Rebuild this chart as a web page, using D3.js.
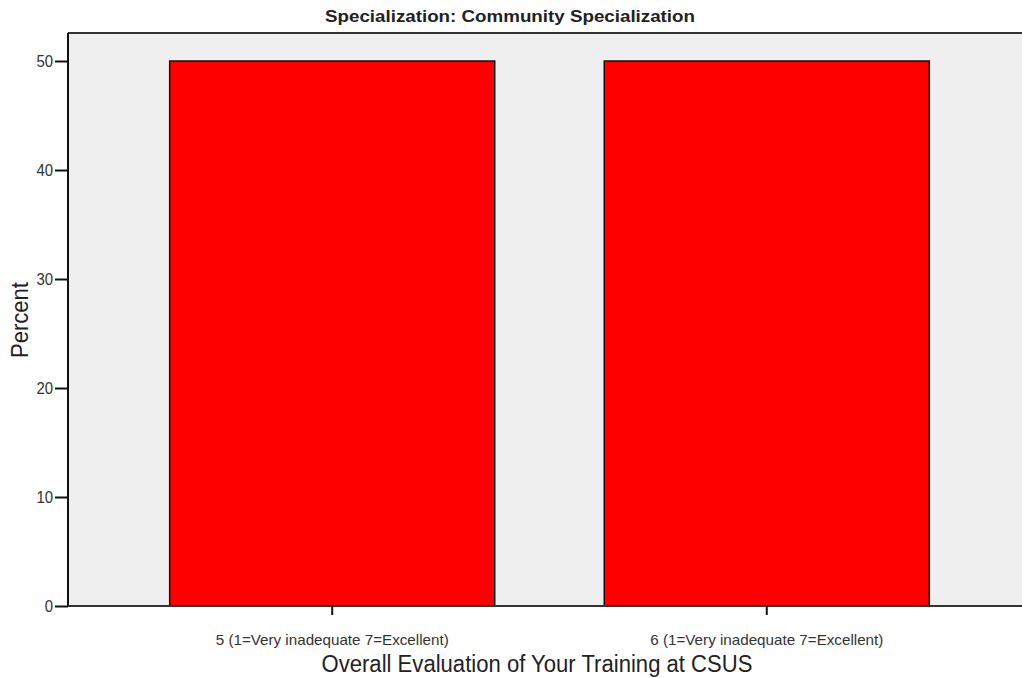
<!DOCTYPE html>
<html><head><meta charset="utf-8">
<script src="https://cdn.jsdelivr.net/npm/d3@7/dist/d3.min.js"></script>
<style>
html,body{margin:0;padding:0;background:#fff;}
svg{display:block;}
text{font-family:"Liberation Sans Narrow","Liberation Sans",Arial,sans-serif;}
</style></head>
<body>
<script>
const categories = ["5 (1=Very inadequate 7=Excellent)", "6 (1=Very inadequate 7=Excellent)"];
const percents = [50, 50];
const yTicks = [0, 10, 20, 30, 40, 50];
const chartTitle = "Specialization: Community Specialization";
const xTitle = "Overall Evaluation of Your Training at CSUS";
const yTitle = "Percent";

const W = 1022, H = 678;
const mLeft = 68, mRight = 1031, mTop = 33, mBottom = 606;
const FONT = '"Liberation Sans Narrow","Liberation Sans",Arial,sans-serif';

const svg = d3.select("body").append("svg").attr("width", W).attr("height", H);

const x = d3.scaleBand().domain(categories).range([mLeft, mRight]).paddingInner(0.252).paddingOuter(0.234);
const y = d3.scaleLinear().domain([0, 52.57]).range([mBottom, mTop]);

// plot background
svg.append("rect").attr("x", mLeft).attr("y", mTop).attr("width", mRight - mLeft).attr("height", mBottom - mTop).attr("fill", "#efefef");
// top border
svg.append("line").attr("x1", mLeft).attr("x2", mRight).attr("y1", mTop).attr("y2", mTop).attr("stroke", "#333").attr("stroke-width", 2);

// bars
svg.selectAll("rect.bar").data(categories).enter().append("rect").attr("class", "bar")
  .attr("x", d => x(d)).attr("width", x.bandwidth())
  .attr("y", (d, i) => y(percents[i])).attr("height", (d, i) => y(0) - y(percents[i]))
  .attr("fill", "#ff0000").attr("stroke", "#111").attr("stroke-width", 1.5);

// y axis
const yAxis = d3.axisLeft(y).tickValues(yTicks).tickSize(13).tickPadding(2).tickFormat(d3.format("d"));
const gy = svg.append("g").attr("transform", `translate(${mLeft},0)`).call(yAxis);
gy.select(".domain").attr("stroke", "#111").attr("stroke-width", 2).attr("d", `M0,${mTop}V${mBottom}`);
gy.selectAll(".tick line").attr("stroke", "#111").attr("stroke-width", 2);
gy.selectAll(".tick text").attr("font-size", 16).attr("fill", "#333").attr("dy", "0.36em")
  .attr("textLength", d => String(d).length * 8.3).attr("lengthAdjust", "spacingAndGlyphs")
  .style("font-family", FONT);

// x axis
const xAxis = d3.axisBottom(x).tickSize(9).tickPadding(8);
const gx = svg.append("g").attr("transform", `translate(0,${mBottom})`).call(xAxis);
gx.select(".domain").attr("stroke", "#333").attr("stroke-width", 2).attr("d", `M${mLeft},0H${mRight}`);
gx.selectAll(".tick line").attr("stroke", "#111").attr("stroke-width", 2);
gx.selectAll(".tick text").attr("font-size", 15).attr("fill", "#333")
  .attr("y", 39).attr("dy", null)
  .attr("textLength", 233).attr("lengthAdjust", "spacingAndGlyphs")
  .style("font-family", FONT);

// title
svg.append("text").attr("x", 510).attr("y", 22).attr("text-anchor", "middle")
  .attr("font-size", 17).attr("font-weight", "bold").attr("fill", "#222")
  .attr("textLength", 370).attr("lengthAdjust", "spacingAndGlyphs").text(chartTitle);

// x title
svg.append("text").attr("x", 537).attr("y", 672).attr("text-anchor", "middle")
  .attr("font-size", 23).attr("fill", "#222")
  .attr("textLength", 431).attr("lengthAdjust", "spacingAndGlyphs").text(xTitle);

// y title
svg.append("text").attr("transform", `translate(28,320) rotate(-90)`).attr("text-anchor", "middle")
  .attr("font-size", 23).attr("fill", "#222")
  .attr("textLength", 76).attr("lengthAdjust", "spacingAndGlyphs").text(yTitle);
</script>
</body></html>
